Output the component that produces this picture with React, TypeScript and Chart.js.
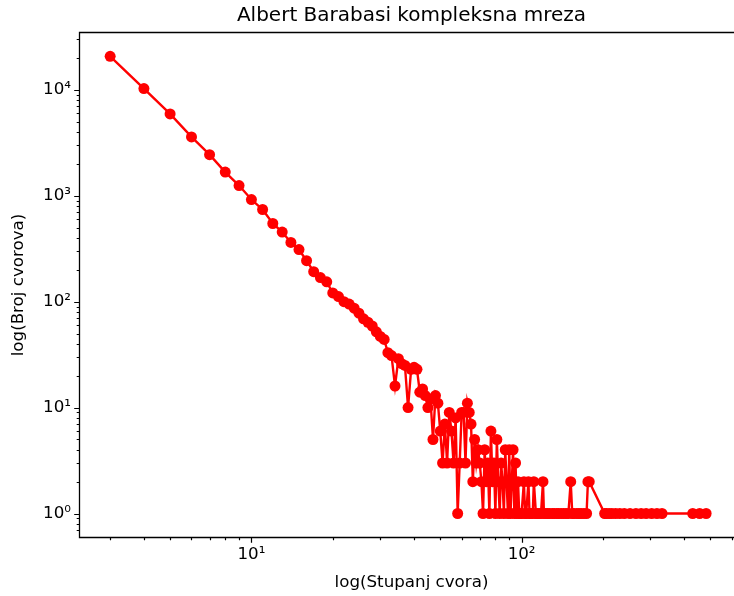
import React, { useEffect, useRef } from 'react';
import { Chart, registerables } from 'chart.js';

Chart.register(...registerables);

const TITLE = 'Albert Barabasi kompleksna mreza';
const X_LABEL = 'log(Stupanj cvora)';
const Y_LABEL = 'log(Broj cvorova)';

const degrees = [
  3, 4, 5, 6, 7, 8, 9, 10, 11, 12, 13, 14, 15, 16, 17, 18, 19, 20,
  21, 22, 23, 24, 25, 26, 27, 28, 29, 30, 31, 32, 33, 34, 35, 36, 37, 38, 39, 40,
  41, 42, 43, 44, 45, 46, 47, 48, 49, 50, 51, 52, 53, 54, 55, 56, 57, 58, 59, 60,
  61, 62, 63, 64, 65, 66, 67, 68, 69, 70, 71, 72, 73, 74, 75, 76, 77, 78, 79, 80,
  81, 82, 83, 84, 85, 86, 87, 88, 89, 90, 91, 92, 93, 94, 95, 96, 97, 98, 99,
  100, 102, 103, 104, 106, 107, 108, 110, 111, 113, 114, 116, 118, 120, 121, 123,
  125, 127, 130, 132, 135, 137, 140, 143, 146, 149, 152, 154, 156, 160, 163, 166,
  170, 174, 176, 178, 203, 206, 211, 216, 223, 231, 240, 252, 265, 277, 289, 303,
  317, 331, 430, 456, 482, 511,
];

const counts = [
  20800, 10300, 5940, 3600, 2450, 1675, 1250, 923, 743, 548, 455, 363, 311, 244, 192, 169, 154, 121,
  112, 100, 95, 87, 78, 69, 64, 59, 52, 47, 44, 33, 31, 16, 29, 26, 25, 10, 23, 24,
  23, 14, 15, 13, 10, 12, 5, 13, 11, 6, 3, 7, 3, 9, 6, 3, 8, 1, 3, 9,
  9, 3, 11, 9, 7, 2, 5, 3, 4, 3, 2, 1, 4, 2, 3, 1, 6, 2, 3, 1,
  5, 2, 1, 3, 2, 1, 4, 2, 1, 4, 1, 2, 4, 1, 3, 1, 2, 1, 1,
  1, 2, 1, 1, 2, 1, 1, 1, 2, 1, 1, 1, 1, 2, 1,
  1, 1, 1, 1, 1, 1, 1, 1, 1, 1, 1, 2, 1, 1, 1, 1,
  1, 1, 1, 2, 2, 1, 1, 1, 1, 1, 1, 1, 1, 1, 1, 1,
  1, 1, 1, 1, 1, 1,
];

const xMajorTicks = [10, 100];
const xMajorLabels = ['10\u00b9', '10\u00b2'];
const yMajorTicks = [1, 10, 100, 1000, 10000];
const yMajorLabels = ['10\u2070', '10\u00b9', '10\u00b2', '10\u00b3', '10\u2074'];

const X_MIN = 2.32;
const X_MAX = 660;
const Y_MIN = 0.609;
const Y_MAX = 34500;

const FONT = 'DejaVu Sans';

function isMajor(v: number) {
  const l = Math.log10(v);
  return Math.abs(l - Math.round(l)) < 1e-9;
}

function logTicks(min: number, max: number) {
  const out: { value: number; major: boolean }[] = [];
  for (let e = -2; e <= 6; e++) {
    for (let m = 1; m <= 9; m++) {
      const v = parseFloat((m * Math.pow(10, e)).toPrecision(6));
      if (v >= min && v <= max) out.push({ value: v, major: false });
    }
  }
  return out;
}

function labelFor(v: number, majors: number[], labels: string[]) {
  for (let i = 0; i < majors.length; i++) {
    if (Math.abs(majors[i] - v) < 1e-9 * majors[i]) return labels[i];
  }
  return '';
}

const framePlugin = {
  id: 'mplFrame',
  afterDraw(chart: any) {
    const { ctx, chartArea: a, scales } = chart;
    ctx.save();
    ctx.strokeStyle = '#000';
    ctx.lineWidth = 1.2;
    ctx.beginPath();
    for (const t of scales.x.ticks) {
      const px = Math.round(scales.x.getPixelForValue(t.value)) + 0.5;
      const len = isMajor(t.value) ? 5.8 : 3.3;
      ctx.moveTo(px, a.bottom);
      ctx.lineTo(px, a.bottom + len);
    }
    for (const t of scales.y.ticks) {
      const py = Math.round(scales.y.getPixelForValue(t.value)) + 0.5;
      const len = isMajor(t.value) ? 5.8 : 3.3;
      ctx.moveTo(a.left, py);
      ctx.lineTo(a.left - len, py);
    }
    ctx.stroke();
    ctx.lineWidth = 1.3;
    const l = Math.round(a.left) - 0.5;
    const t = Math.round(a.top) - 0.5;
    const b = Math.round(a.bottom) + 0.5;
    const r = a.right;
    ctx.beginPath();
    ctx.moveTo(r, t);
    ctx.lineTo(l, t);
    ctx.lineTo(l, b);
    ctx.lineTo(r, b);
    ctx.stroke();
    ctx.restore();
  },
};

export default function App() {
  const ref = useRef<HTMLCanvasElement | null>(null);

  useEffect(() => {
    if (!ref.current) return;
    Chart.defaults.font.family = FONT;
    const points = degrees.map((d, i) => ({ x: d, y: counts[i] }));
    const chart = new Chart(ref.current, {
      type: 'line',
      data: {
        datasets: [
          {
            data: points,
            borderColor: '#ff0000',
            backgroundColor: '#ff0000',
            pointBackgroundColor: '#ff0000',
            pointBorderColor: '#ff0000',
            borderWidth: 2.4,
            pointRadius: 5.5,
            pointBorderWidth: 0,
            tension: 0,
            fill: false,
          },
        ],
      },
      options: {
        responsive: false,
        animation: false,
        layout: { padding: { left: 0, right: 17, top: 0, bottom: 0 } },
        plugins: {
          legend: { display: false },
          tooltip: { enabled: false },
          title: {
            display: true,
            text: TITLE,
            color: '#000',
            fullSize: false,
            font: { family: FONT, size: 20, weight: 'normal', lineHeight: 1.2 },
            padding: { top: 4, bottom: 5 },
          },
        },
        scales: {
          x: {
            type: 'logarithmic',
            min: X_MIN,
            max: X_MAX,
            position: 'bottom',
            grid: { display: false, drawTicks: false },
            border: { display: false },
            afterBuildTicks: (s: any) => {
              s.ticks = logTicks(X_MIN, X_MAX);
            },
            afterFit: (s: any) => {
              s.height = 59;
            },
            ticks: {
              autoSkip: false,
              maxRotation: 0,
              minRotation: 0,
              padding: 8,
              color: '#000',
              font: { family: FONT, size: 16.7 },
              callback: (v: any) => labelFor(Number(v), xMajorTicks, xMajorLabels),
            },
            title: {
              display: true,
              text: X_LABEL,
              color: '#000',
              font: { family: FONT, size: 16.7, lineHeight: 1.2 },
              padding: { top: 0, bottom: 3 },
            },
          },
          y: {
            type: 'logarithmic',
            min: Y_MIN,
            max: Y_MAX,
            position: 'left',
            grid: { display: false, drawTicks: false },
            border: { display: false },
            afterBuildTicks: (s: any) => {
              s.ticks = logTicks(Y_MIN, Y_MAX);
            },
            afterFit: (s: any) => {
              s.width = 80;
            },
            ticks: {
              autoSkip: false,
              padding: 9,
              color: '#000',
              font: { family: FONT, size: 16.7 },
              callback: (v: any) => labelFor(Number(v), yMajorTicks, yMajorLabels),
            },
            title: {
              display: true,
              text: Y_LABEL,
              color: '#000',
              font: { family: FONT, size: 16.7, lineHeight: 1.2 },
              padding: { top: 8.5, bottom: 0 },
            },
          },
        },
      },
      plugins: [framePlugin],
    } as any);
    return () => chart.destroy();
  }, []);

  return (
    <div
      style={{
        position: 'fixed',
        left: 0,
        top: 0,
        width: 734,
        height: 596,
        overflow: 'hidden',
        background: '#fff',
      }}
    >
      <canvas ref={ref} width={760} height={596} style={{ display: 'block', width: 760, height: 596 }} />
    </div>
  );
}
